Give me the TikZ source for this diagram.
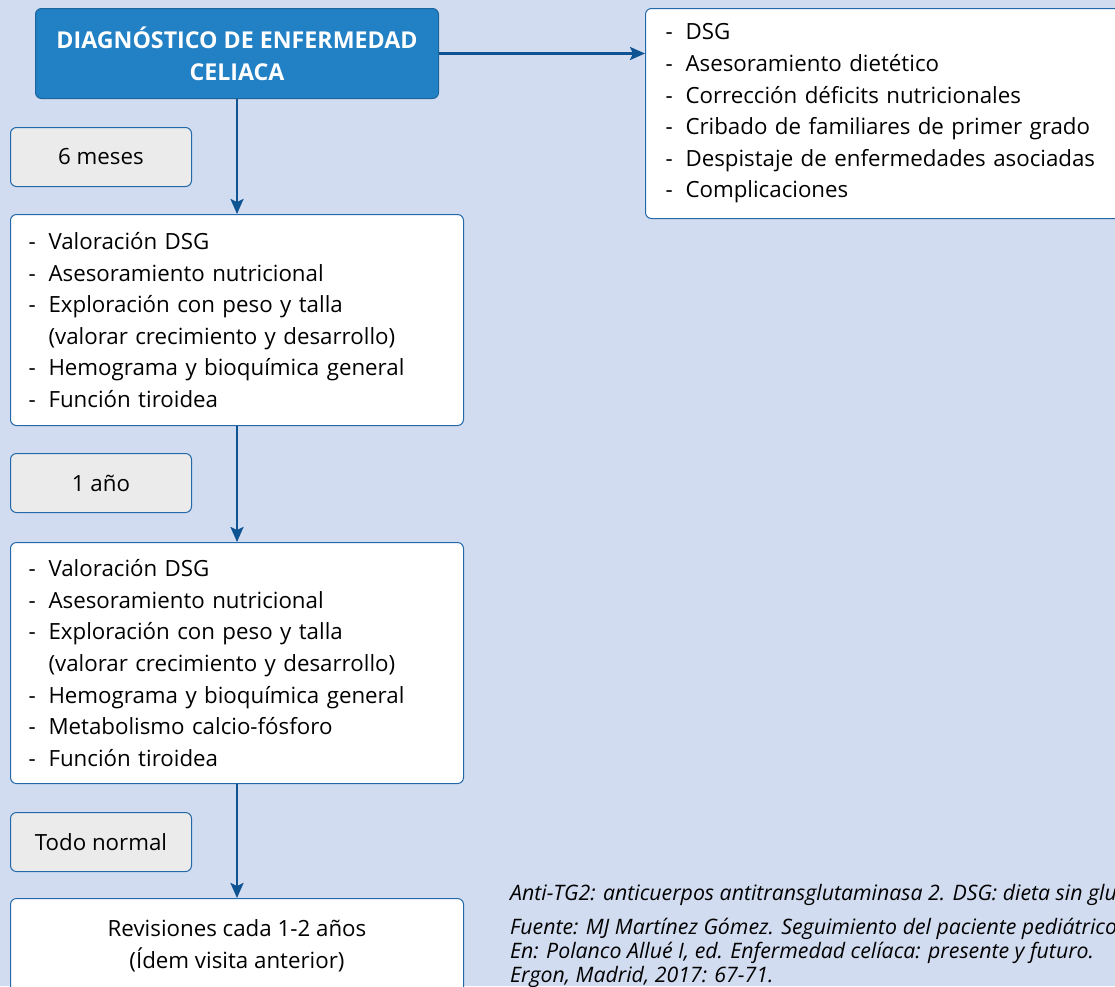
\documentclass[tikz,border=0pt]{standalone}
\usepackage{fontspec}
\setmainfont{Open Sans}
\usetikzlibrary{positioning,arrows.meta}

\definecolor{bgblue}{RGB}{210,220,240}
\definecolor{titleblue}{RGB}{34,128,196}
\definecolor{lineblue}{RGB}{35,105,170}
\definecolor{arrowblue}{RGB}{14,84,146}
\definecolor{labelgray}{RGB}{235,235,235}

\newcommand{\bodyfont}{\fontsize{22.3}{31.6}\selectfont}
\newcommand{\titlefont}{\fontsize{23.2}{32}\selectfont\bfseries}
\newcommand{\notefont}{\fontsize{21.3}{24}\selectfont\itshape}
\newcommand{\itm}{\makebox[20pt][l]{-}}

\tikzset{
  box/.style={draw=lineblue, line width=1pt, rounded corners=6pt, fill=white,
    anchor=north west, inner xsep=18pt, inner ysep=0pt, align=left, font=\bodyfont},
  titlebox/.style={box, fill=titleblue, draw=titleblue!80!black, text=white,
    align=center, font=\titlefont},
  timebox/.style={box, fill=labelgray, align=center, minimum width=181pt,
    minimum height=59pt},
  note/.style={anchor=north west, inner sep=0pt, align=left, font=\notefont},
  arr/.style={draw=arrowblue, line width=2.4pt,
    -{Stealth[length=15pt,width=13pt,inset=3pt]}}
}

\begin{document}
\begin{tikzpicture}[x=1pt,y=-1pt]

  \fill[bgblue] (0,0) rectangle (1115,986);
  \useasboundingbox (0,0) rectangle (1115,986);
  \clip (0,0) rectangle (1115,986);

  \node[titlebox, minimum width=403pt, minimum height=90pt] (diag) at (35,8)
    {DIAGNÓSTICO DE ENFERMEDAD\\CELIACA};

  \node[box, inner xsep=20pt, text width=480pt, minimum height=210pt] (tasks) at (645,8)
    {\itm DSG\\
     \itm Asesoramiento dietético\\
     \itm Corrección déficits nutricionales\\
     \itm Cribado de familiares de primer grado\\
     \itm Despistaje de enfermedades asociadas\\
     \itm Complicaciones};

  \node[timebox] (t6) at (10,127) {6 meses};

  \node[box, text width=417pt, minimum height=211pt] (visit1) at (10,214)
    {\itm Valoración DSG\\
     \itm Asesoramiento nutricional\\
     \itm Exploración con peso y talla\\
     \hspace*{20pt}(valorar crecimiento y desarrollo)\\
     \itm Hemograma y bioquímica general\\
     \itm Función tiroidea};

  \node[timebox] (t12) at (10,453) {1 año};

  \node[box, text width=417pt, minimum height=241pt] (visit2) at (10,542)
    {\itm Valoración DSG\\
     \itm Asesoramiento nutricional\\
     \itm Exploración con peso y talla\\
     \hspace*{20pt}(valorar crecimiento y desarrollo)\\
     \itm Hemograma y bioquímica general\\
     \itm Metabolismo calcio-fósforo\\
     \itm Función tiroidea};

  \node[timebox] (tok) at (10,812) {Todo normal};

  \node[box, align=center, minimum width=453pt, minimum height=95pt] (review) at (10,898)
    {Revisiones cada 1-2 años\\(Ídem visita anterior)};

  \node[note] (abbr) at (510,884)
    {Anti-TG2: anticuerpos antitransglutaminasa 2. DSG: dieta sin gluten.};
  \node[note] (source) at (510,918)
    {Fuente: MJ Martínez Gómez. Seguimiento del paciente pediátrico.\\
     En: Polanco Allué I, ed. Enfermedad celíaca: presente y futuro.\\
     Ergon, Madrid, 2017: 67-71.};

  \draw[arr] (diag.east) -- (diag.east -| tasks.west);
  \draw[arr] (diag.south) -- (visit1.north);
  \draw[arr] (visit1.south) -- (visit2.north);
  \draw[arr] (visit2.south) -- (review.north);

\end{tikzpicture}
\end{document}
